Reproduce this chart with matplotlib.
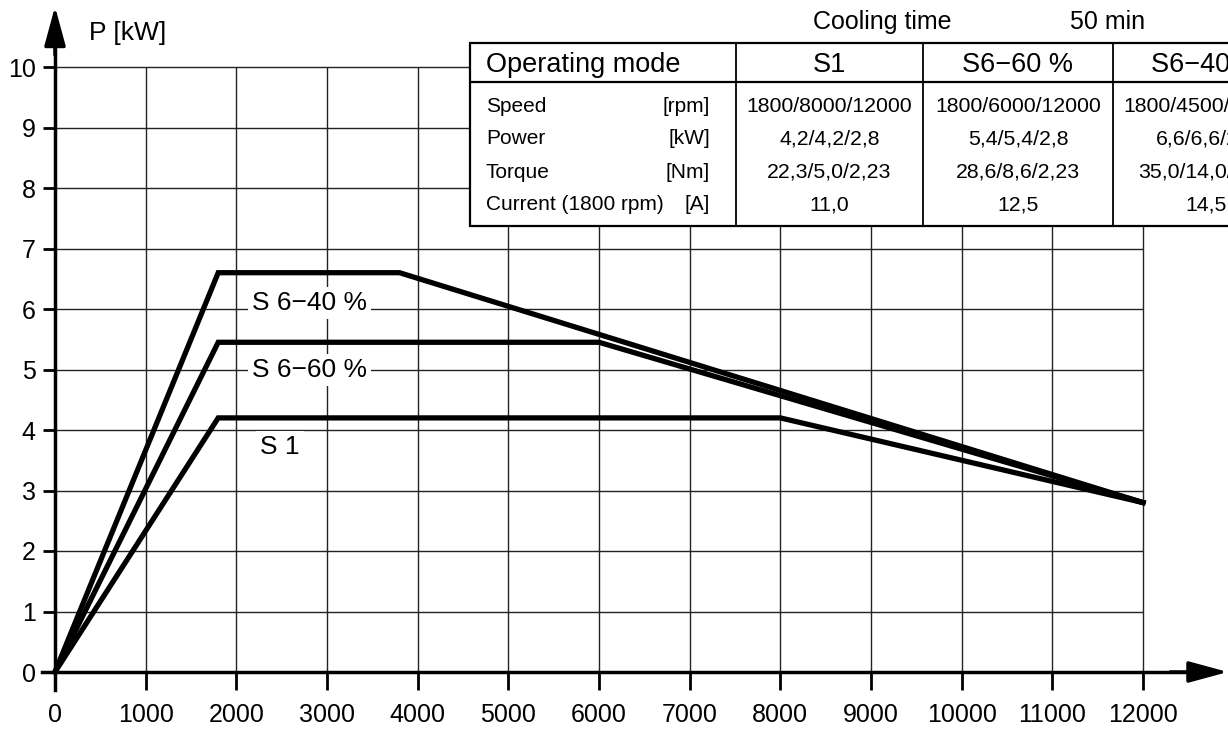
import matplotlib.pyplot as plt
from matplotlib.patches import FancyArrowPatch, Rectangle

plt.rcParams['font.family'] = ['Liberation Sans', 'DejaVu Sans']

# power curves (speed in rpm, power in kW)
speed_s1 = [0, 1800, 8000, 12000]
power_s1 = [0, 4.2, 4.2, 2.8]
speed_s660 = [0, 1800, 6000, 12000]
power_s660 = [0, 5.45, 5.45, 2.8]
speed_s640 = [0, 1800, 3800, 12000]
power_s640 = [0, 6.6, 6.6, 2.8]

xticks = list(range(0, 12001, 1000))
yticks = list(range(0, 11))

curve_labels = ["S 6\u221240 %", "S 6\u221260 %", "S 1"]
label_pos = [(2170, 6.1), (2170, 4.99), (2260, 3.72)]

# table content
modes = ["S1", "S6\u221260 %", "S6\u221240 %"]
row_names = ["Speed", "Power", "Torque", "Current (1800 rpm)"]
row_units = ["[rpm]", "[kW]", "[Nm]", "[A]"]
cells = [
    ["1800/8000/12000", "1800/6000/12000", "1800/4500/12000"],
    ["4,2/4,2/2,8", "5,4/5,4/2,8", "6,6/6,6/2,8"],
    ["22,3/5,0/2,23", "28,6/8,6/2,23", "35,0/14,0/2,23"],
    ["11,0", "12,5", "14,5"],
]

W, H = 1228, 731
fig = plt.figure(figsize=(W / 100, H / 100), dpi=100)
ax = fig.add_axes([0, 0, 1, 1])

# pixel mapping: x 0 -> 55 px, 12000 -> 1143 px; y 0 -> 672 px, 10 -> 67 px
kx = 1088 / 12000
ky = 60.5
ax.set_xlim(-55 / kx, (W - 55) / kx)
ax.set_ylim(-(H - 672) / ky, 672 / ky)

ax.vlines(xticks[1:], 0, 10, color='#222222', lw=1.0, zorder=1)
ax.hlines(yticks[1:], 0, 12000, color='#222222', lw=1.0, zorder=1)

for sp, pw in [(speed_s1, power_s1), (speed_s660, power_s660), (speed_s640, power_s640)]:
    ax.plot(sp, pw, color='black', lw=3.8, solid_joinstyle='miter', zorder=3)

for txt, (x, y) in zip(curve_labels, label_pos):
    ax.text(x, y, txt, fontsize=19, ha='left', va='center', zorder=2,
            bbox=dict(facecolor='white', edgecolor='none', pad=3))

for s in ['top', 'right']:
    ax.spines[s].set_visible(False)
ax.spines['left'].set_position(('data', 0))
ax.spines['bottom'].set_position(('data', 0))
ax.spines['left'].set_bounds(-0.3, 10.6)
ax.spines['bottom'].set_bounds(-143, 12700)
ax.spines['left'].set_linewidth(2.5)
ax.spines['bottom'].set_linewidth(2.5)
ax.set_xticks(xticks)
ax.set_yticks(yticks)
ax.tick_params(axis='x', direction='out', length=13, width=2, pad=9, labelsize=18)
ax.tick_params(axis='y', direction='out', length=9, width=2, pad=5, labelsize=18)
ax.patch.set_visible(False)

arrow_kw = dict(arrowstyle='-|>,head_length=24,head_width=6.5', mutation_scale=1,
                color='black', lw=2.5, shrinkA=0, shrinkB=0, zorder=4)
ax.add_patch(FancyArrowPatch((0, 10.2), (0, 11.0), **arrow_kw))
ax.add_patch(FancyArrowPatch((12300, 0), (12937, 0), **arrow_kw))

ax.text(380, 10.56, "P [kW]", fontsize=19, ha='left', va='center')

# header above table
fig.text(882 / W, 1 - 22 / H, "Cooling time", fontsize=18, ha='center', va='center')
fig.text(1108 / W, 1 - 22 / H, "50 min", fontsize=18, ha='center', va='center')

# table
tx0, ty0, tw, th = 470, 43, 830, 183
tax = fig.add_axes([tx0 / W, 1 - (ty0 + th) / H, tw / W, th / H])
tax.set_xlim(0, tw)
tax.set_ylim(th, 0)
tax.axis('off')
tax.add_patch(Rectangle((0, 0), tw, th, facecolor='white', edgecolor='black',
                        lw=1.6, clip_on=False))
col_edges = [0, 266, 453, 643, 830]
header_y = 39
tax.plot([0, tw], [header_y, header_y], color='black', lw=1.6)
for cx in col_edges[1:-1]:
    tax.plot([cx, cx], [0, th], color='black', lw=1.3)

tax.text(16, 22, "Operating mode", fontsize=19.5, ha='left', va='center')
for i, m in enumerate(modes):
    cx = (col_edges[i + 1] + col_edges[i + 2]) / 2
    tax.text(cx, 22, m, fontsize=19.5, ha='center', va='center')

row_y = [63, 96, 129, 162]
for r, (name, unit) in enumerate(zip(row_names, row_units)):
    tax.text(16, row_y[r], name, fontsize=15, ha='left', va='center')
    tax.text(240, row_y[r], unit, fontsize=15, ha='right', va='center')
    for i, val in enumerate(cells[r]):
        cx = (col_edges[i + 1] + col_edges[i + 2]) / 2
        tax.text(cx, row_y[r], val, fontsize=15.3, ha='center', va='center')

fig.savefig("out.png", dpi=100)
